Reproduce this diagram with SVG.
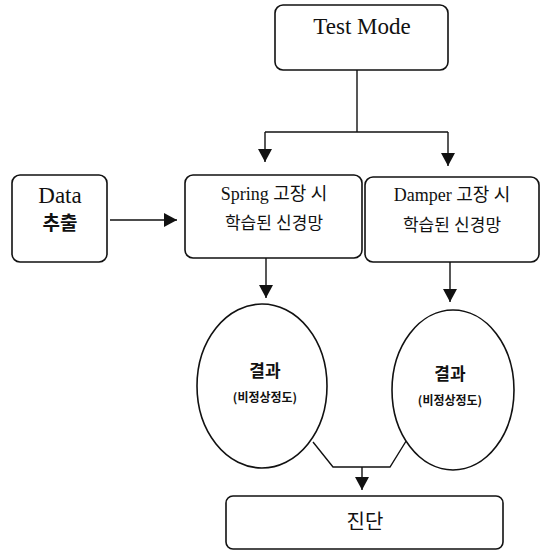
<svg xmlns="http://www.w3.org/2000/svg" width="542" height="551" viewBox="0 0 542 551">
  <style>
    .box { fill: #fff; stroke: #111; stroke-width: 1.6; }
    .wire { fill: none; stroke: #111; stroke-width: 1.4; }
    .t { font-family: "Liberation Serif", "Noto Sans CJK KR", serif; fill: #111; text-anchor: middle; }
    .k { font-family: "Noto Sans CJK KR", "Liberation Sans", sans-serif; fill: #111; text-anchor: middle; }
  </style>
  <defs>
    <marker id="arrow" markerUnits="userSpaceOnUse" markerWidth="14" markerHeight="14" viewBox="0 0 14 14" refX="13" refY="7" orient="auto">
      <path d="M0,0 L13,7 L0,14 Z" fill="#111"/>
    </marker>
  </defs>

  <rect width="542" height="551" fill="#fff"/>

  <g id="connectors">
    <!-- Test Mode splits into both networks -->
    <path class="wire" d="M357,70 V132"/>
    <path class="wire" d="M265,132 H448"/>
    <path class="wire" d="M265,132 V162" marker-end="url(#arrow)"/>
    <path class="wire" d="M448,132 V166" marker-end="url(#arrow)"/>
    <!-- data feed -->
    <path class="wire" d="M110,220 H177" marker-end="url(#arrow)"/>
    <!-- networks to results -->
    <path class="wire" d="M266,258 V298" marker-end="url(#arrow)"/>
    <path class="wire" d="M450,262 V302" marker-end="url(#arrow)"/>
    <!-- results merge into diagnosis -->
    <path class="wire" d="M313,442 L333,467 H390 L408,438"/>
    <path class="wire" d="M362,467 V490" marker-end="url(#arrow)"/>
  </g>

  <g id="test-mode">
    <rect class="box" x="275" y="5" width="173" height="65" rx="8"/>
    <text class="t" x="362" y="34" font-size="23">Test Mode</text>
  </g>

  <g id="data">
    <rect class="box" x="12" y="175" width="95" height="87" rx="8"/>
    <text class="t" x="60" y="203" font-size="23">Data</text>
    <text class="k" x="60" y="230" font-size="19" font-weight="bold">추출</text>
  </g>

  <g id="spring-net">
    <rect class="box" x="185" y="175" width="177" height="83" rx="8"/>
    <text class="t" x="274" y="200" font-size="18">Spring 고장 시</text>
    <text class="t" x="274" y="229" font-size="17">학습된 신경망</text>
  </g>

  <g id="damper-net">
    <rect class="box" x="365" y="177" width="174" height="85" rx="8"/>
    <text class="t" x="452" y="201" font-size="18">Damper 고장 시</text>
    <text class="t" x="452" y="231" font-size="17">학습된 신경망</text>
  </g>

  <g id="result-spring">
    <ellipse class="box" cx="262" cy="386" rx="65" ry="82"/>
    <text class="k" x="265" y="377" font-size="17" font-weight="bold">결과</text>
    <text class="k" x="265" y="402" font-size="12" font-weight="bold">(비정상정도)</text>
  </g>

  <g id="result-damper">
    <ellipse class="box" cx="453" cy="390" rx="61" ry="80"/>
    <text class="k" x="450" y="380" font-size="17" font-weight="bold">결과</text>
    <text class="k" x="450" y="405" font-size="12" font-weight="bold">(비정상정도)</text>
  </g>

  <g id="diagnosis">
    <rect class="box" x="226" y="496" width="277" height="53" rx="7"/>
    <text class="k" x="365" y="529" font-size="20">진단</text>
  </g>
</svg>
